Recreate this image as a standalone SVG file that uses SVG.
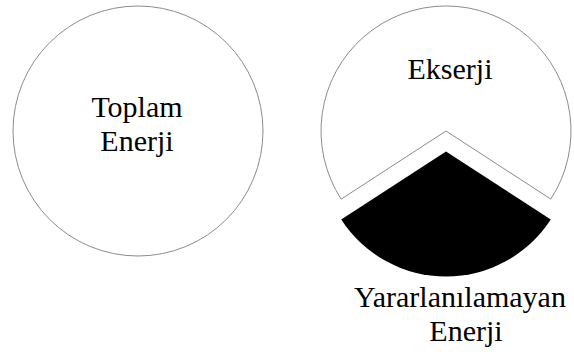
<svg xmlns="http://www.w3.org/2000/svg" width="574" height="359" viewBox="0 0 574 359">
<style>
.shape{fill:#fff;stroke:#8c8c8c;stroke-width:1}
.dark{fill:#000;stroke:none}
text{font-family:"Liberation Serif","Times New Roman",serif;font-size:30px;fill:#000;text-anchor:middle}
</style>
<rect width="574" height="359" fill="#fff"/>
<g id="toplam-enerji">
<circle class="shape" cx="138" cy="131" r="125"/>
<text x="137" y="117">Toplam</text>
<text x="137" y="151">Enerji</text>
</g>
<g id="ekserji">
<path class="shape" d="M 446 131 L 341.2 199.1 A 125 125 0 1 1 550.8 199.1 Z"/>
<text x="450" y="79">Ekserji</text>
</g>
<g id="yararlanilamayan-enerji">
<path class="dark" d="M 446 151.5 L 341.2 219.6 A 125 125 0 0 0 550.8 219.6 Z"/>
<text x="460" y="307">Yararlanılamayan</text>
<text x="466" y="341">Enerji</text>
</g>
<g id="connectors"></g>
</svg>
